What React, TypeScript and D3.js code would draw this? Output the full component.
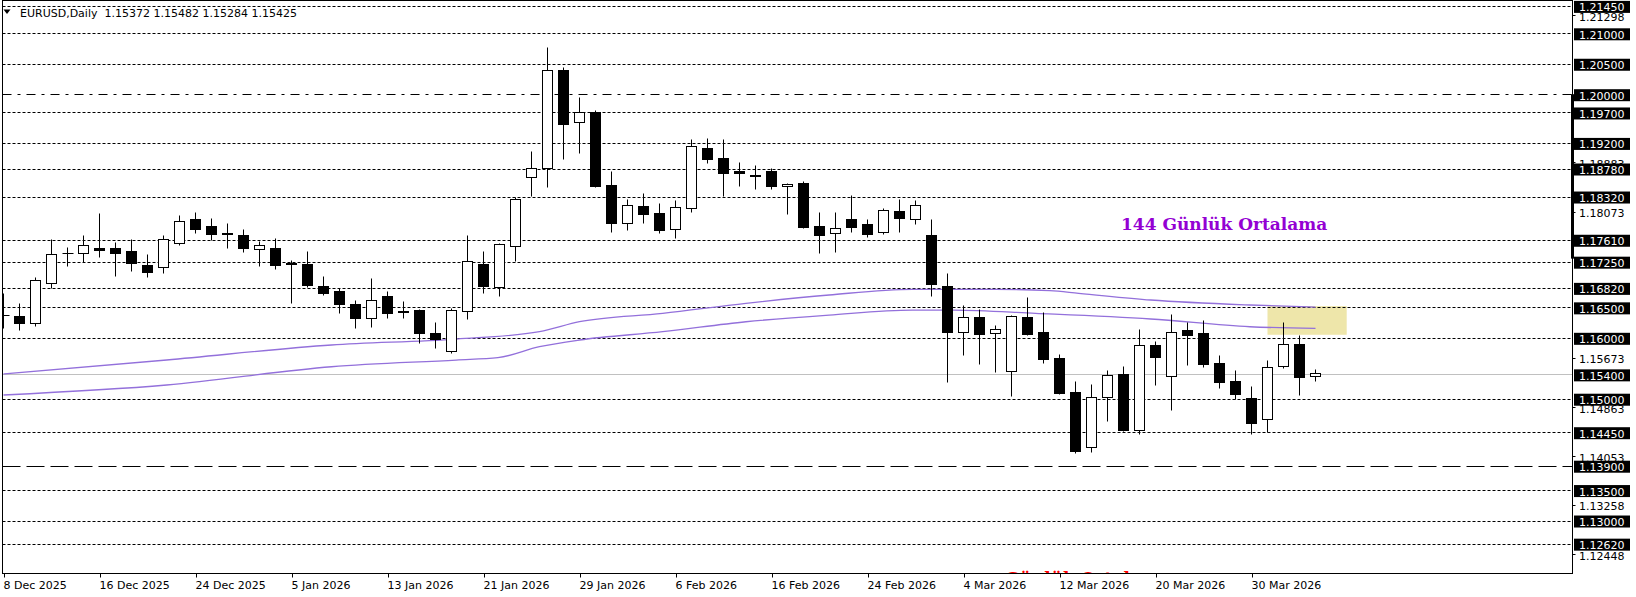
import React from 'react';
import * as d3 from 'd3';

// ---------- DATA ----------
const dates = [
  '2025-12-08','2025-12-09','2025-12-10','2025-12-11','2025-12-12','2025-12-15','2025-12-16','2025-12-17','2025-12-18','2025-12-19',
  '2025-12-22','2025-12-23','2025-12-24','2025-12-26','2025-12-29','2025-12-30','2025-12-31','2026-01-02','2026-01-05','2026-01-06',
  '2026-01-07','2026-01-08','2026-01-09','2026-01-12','2026-01-13','2026-01-14','2026-01-15','2026-01-16','2026-01-19','2026-01-20',
  '2026-01-21','2026-01-22','2026-01-23','2026-01-26','2026-01-27','2026-01-28','2026-01-29','2026-01-30','2026-02-02','2026-02-03',
  '2026-02-04','2026-02-05','2026-02-06','2026-02-09','2026-02-10','2026-02-11','2026-02-12','2026-02-13','2026-02-16','2026-02-17',
  '2026-02-18','2026-02-19','2026-02-20','2026-02-23','2026-02-24','2026-02-25','2026-02-26','2026-02-27','2026-03-02','2026-03-03',
  '2026-03-04','2026-03-05','2026-03-06','2026-03-09','2026-03-10','2026-03-11','2026-03-12','2026-03-13','2026-03-16','2026-03-17',
  '2026-03-18','2026-03-19','2026-03-20','2026-03-23','2026-03-24','2026-03-25','2026-03-26','2026-03-27','2026-03-30','2026-03-31',
  '2026-04-01','2026-04-02','2026-04-03'
];

const open = [
  1.16374,1.16358,1.16248,1.16895,1.17388,1.17388,1.17470,1.17470,1.17425,1.17196,
  1.17158,1.17552,1.17951,1.17836,1.17716,1.17688,1.17453,1.17470,1.17223,1.17212,
  1.16851,1.16769,1.16555,1.16320,1.16686,1.16429,1.16457,1.16074,1.15788,1.16435,
  1.17212,1.16839,1.17503,1.18636,1.18783,1.20392,1.19539,1.19703,1.18509,1.17890,
  1.18164,1.18049,1.17782,1.18126,1.19112,1.18948,1.18739,1.18668,1.18734,1.18488,
  1.18537,1.17831,1.17716,1.17946,1.17864,1.17732,1.18082,1.17946,1.17683,1.16846,
  1.16100,1.16337,1.16074,1.15450,1.16337,1.16090,1.15664,1.15105,1.14202,1.15033,
  1.15406,1.14491,1.15877,1.15373,1.16123,1.16074,1.15581,1.15286,1.15007,1.14662,
  1.15537,1.15893,1.15372
];
const high = [
  1.16731,1.16567,1.16994,1.17618,1.17496,1.17688,1.18044,1.17578,1.17618,1.17376,
  1.17688,1.18017,1.18061,1.17962,1.17880,1.17782,1.17590,1.17634,1.17278,1.17425,
  1.17015,1.16813,1.16621,1.16982,1.16769,1.16604,1.16467,1.16255,1.16494,1.17688,
  1.17425,1.17562,1.18317,1.19067,1.20780,1.20452,1.19949,1.19741,1.18739,1.18279,
  1.18373,1.18213,1.18263,1.19264,1.19276,1.19259,1.18882,1.18838,1.18783,1.18547,
  1.18575,1.18061,1.18061,1.18340,1.17946,1.18126,1.18279,1.18263,1.17951,1.17059,
  1.16539,1.16468,1.16205,1.16375,1.16665,1.16429,1.15729,1.15291,1.15237,1.15471,
  1.15537,1.16145,1.15948,1.16386,1.16265,1.16292,1.15718,1.15471,1.15209,1.15636,
  1.16260,1.16046,1.15482
];
const low = [
  1.16156,1.16128,1.16199,1.16813,1.17179,1.17240,1.17332,1.17020,1.17102,1.17003,
  1.17059,1.17524,1.17716,1.17606,1.17480,1.17414,1.17184,1.17125,1.16577,1.16829,
  1.16703,1.16412,1.16166,1.16182,1.16330,1.16330,1.15910,1.15828,1.15756,1.16314,
  1.16741,1.16691,1.17261,1.18328,1.18481,1.18936,1.19040,1.18481,1.17742,1.17770,
  1.17890,1.17726,1.17644,1.18071,1.18865,1.18328,1.18498,1.18448,1.18448,1.18038,
  1.17808,1.17397,1.17414,1.17732,1.17650,1.17700,1.17732,1.17874,1.16691,1.15279,
  1.15723,1.15570,1.15443,1.15044,1.16047,1.15591,1.15075,1.14104,1.14130,1.14639,
  1.14475,1.14416,1.15225,1.14815,1.15558,1.15526,1.15181,1.14990,1.14416,1.14458,
  1.15509,1.15066,1.15284
];
const close = [
  1.16380,1.16248,1.16949,1.17371,1.17392,1.17524,1.17447,1.17397,1.17223,1.17086,
  1.17618,1.17918,1.17782,1.17700,1.17712,1.17470,1.17524,1.17191,1.17207,1.16872,
  1.16741,1.16560,1.16330,1.16621,1.16412,1.16433,1.16084,1.15985,1.16457,1.17261,
  1.16856,1.17540,1.18279,1.18783,1.20392,1.19516,1.19703,1.18498,1.17890,1.18181,
  1.18038,1.17770,1.18143,1.19149,1.18931,1.18701,1.18701,1.18665,1.18498,1.18526,
  1.17824,1.17693,1.17798,1.17824,1.17709,1.18094,1.17962,1.18176,1.16888,1.16100,
  1.16337,1.16067,1.16150,1.16353,1.16063,1.15657,1.15089,1.14146,1.15033,1.15389,
  1.14486,1.15877,1.15690,1.16090,1.16051,1.15575,1.15279,1.15082,1.14606,1.15516,
  1.15893,1.15361,1.15425
];

const tickLabels = ['8 Dec 2025','16 Dec 2025','24 Dec 2025','5 Jan 2026','13 Jan 2026','21 Jan 2026','29 Jan 2026',
  '6 Feb 2026','16 Feb 2026','24 Feb 2026','4 Mar 2026','12 Mar 2026','20 Mar 2026','30 Mar 2026'];
const tickDates = ['2025-12-08','2025-12-16','2025-12-24','2026-01-05','2026-01-13','2026-01-21','2026-01-29',
  '2026-02-06','2026-02-16','2026-02-24','2026-03-04','2026-03-12','2026-03-20','2026-03-30'];

const levelPrices = [1.2145,1.21,1.205,1.2,1.197,1.192,1.1878,1.1832,1.1761,1.1725,1.1682,1.165,1.16,1.154,1.15,1.1445,1.139,1.135,1.13,1.1262];
const levelStyles = ['dot','dot','dot','dashdot','dot','dot','dot','dot','dot','dot','dot','dot','dot','bid','dot','dot','dash','dot','dot','dot'];

// price-scale labels that are visible (the rest are covered by the level boxes)
const scaleLabels = [1.21298,1.18883,1.18073,1.15673,1.14863,1.14053,1.13258,1.12448];

const maUpperBars = [0,10.2,20.5,28.3,33.5,36,41.2,46.4,51.6,56.8,62,65.4,67.2,71.7,77.9,82];
const maUpperVals = [1.15406,1.15636,1.15882,1.1598,1.1610,1.16264,1.16402,1.16567,1.16703,1.16796,1.16796,1.16774,1.16731,1.16621,1.16539,1.16505];
const maLowerBars = [0,10.2,20.5,28.3,30.9,33.5,36,41.2,46.4,51.6,56.8,59.4,64.5,71.7,77.9,82];
const maLowerVals = [1.15061,1.15225,1.15525,1.15635,1.15673,1.15854,1.15964,1.161,1.16264,1.16374,1.16456,1.16456,1.16402,1.16309,1.16182,1.16156];

const zoneBars = [79, 83.95];
const zonePrices = [1.1652, 1.1605];

const headerText = 'EURUSD,Daily  1.15372 1.15482 1.15284 1.15425';
const maTitle = '144 Günlük Ortalama';
const redTitle = 'Günlük Ortalama';

// ---------- CHART ----------
export default function App() {
  const W = 1636, H = 597;
  const plotL = 2.5, plotR = 1572.5, plotT = 0.5, plotB = 573.5;
  const x = d3.scaleLinear().domain([0, 82]).range([3.5, 3.5 + 16 * 82]);
  const y = d3.scaleLinear().domain([1.21, 1.1262]).range([33.3, 543.66]);
  const py = (p: number) => Math.round(y(p)) + 0.5;
  const font = 'DejaVu Sans, Verdana, sans-serif';

  const dashFor = (s: string) =>
    s === 'dot' ? '3,2' : s === 'dashdot' ? '9,6,3,6' : s === 'dash' ? '18,6' : undefined;

  const lineGen = d3.line<[number, number]>()
    .x(d => x(d[0]))
    .y(d => y(d[1]))
    .curve(d3.curveMonotoneX);
  const upperPts: [number, number][] = maUpperBars.map((b, i) => [b, maUpperVals[i]]);
  const lowerPts: [number, number][] = maLowerBars.map((b, i) => [b, maLowerVals[i]]);

  const candles = dates.map((d, i) => {
    const xc = x(i);
    const o = open[i], c = close[i];
    const yo = py(o), yc = py(c);
    const top = Math.min(yo, yc), bot = Math.max(yo, yc);
    const bull = c >= o;
    return (
      <g key={d}>
        <line x1={xc} x2={xc} y1={py(high[i])} y2={py(low[i])} stroke="#000" strokeWidth={1} />
        {bot - top < 1 ? (
          <line x1={xc - 5} x2={xc + 6} y1={top} y2={top} stroke="#000" strokeWidth={1} />
        ) : (
          <rect x={xc - 5} y={top} width={10} height={bot - top}
            fill={bull ? '#fff' : '#000'} stroke="#000" strokeWidth={1} />
        )}
      </g>
    );
  });

  return (
    <svg width={W} height={H} style={{ position: 'absolute', left: 0, top: 0, background: '#fff' }}
      xmlns="http://www.w3.org/2000/svg">
      <defs>
        <clipPath id="plot">
          <rect x={plotL} y={plotT} width={plotR - plotL} height={plotB - plotT} />
        </clipPath>
      </defs>
      <rect x={0} y={0} width={W} height={H} fill="#fff" />

      <g clipPath="url(#plot)">
        <rect x={x(zoneBars[0])} y={y(zonePrices[0])} width={x(zoneBars[1]) - x(zoneBars[0])}
          height={y(zonePrices[1]) - y(zonePrices[0])} fill="#EEE6AA" />
        {levelPrices.map((p, i) => (
          <line key={p} x1={plotL} x2={plotR} y1={py(p)} y2={py(p)}
            stroke={levelStyles[i] === 'bid' ? '#C0C0C0' : '#000'} strokeWidth={1}
            strokeDasharray={dashFor(levelStyles[i])} />
        ))}
        <path d={lineGen(upperPts) || ''} fill="none" stroke="#9370DB" strokeWidth={1.3} />
        <path d={lineGen(lowerPts) || ''} fill="none" stroke="#9370DB" strokeWidth={1.3} />
        {candles}
        <text x={1121} y={230} fontFamily="DejaVu Serif, serif" fontWeight="bold" fontSize={17} fill="#9400D3">{maTitle}</text>
        <text x={1005} y={584} fontFamily="DejaVu Serif, serif" fontWeight="bold" fontSize={17} fill="#FF0000">{redTitle}</text>
      </g>

      {/* header */}
      <path d="M3.5,9.5 L10.5,9.5 L7,14 Z" fill="#000" />
      <text x={20} y={16.5} fontFamily={font} fontSize={11} fill="#000" style={{ whiteSpace: 'pre' }}>{headerText}</text>

      {/* frame */}
      <rect x={plotL} y={plotT} width={plotR - plotL} height={plotB - plotT} fill="none" stroke="#000" strokeWidth={1} />
      <rect x={1571} y={y(1.2)} width={3} height={y(1.173) - y(1.2)} fill="#000" />

      {/* right axis plain scale labels */}
      {scaleLabels.map(p => (
        <g key={'s' + p}>
          <line x1={plotR} x2={plotR + 3} y1={py(p)} y2={py(p)} stroke="#000" />
          <text x={1579} y={y(p) + 5.5} fontFamily={font} fontSize={11} fill="#000">{p.toFixed(5)}</text>
        </g>
      ))}
      {/* right axis level labels (boxed) */}
      {levelPrices.map(p => (
        <g key={'l' + p}>
          <rect x={1574} y={y(p) - 5} width={56} height={12} fill="#000" />
          <text x={1579} y={y(p) + 5.5} fontFamily={font} fontSize={11} fill="#fff">{p.toFixed(5)}</text>
        </g>
      ))}

      {/* bottom axis */}
      {tickLabels.map((t, i) => {
        const idx = dates.indexOf(tickDates[i]);
        const xt = Math.round(x(idx)) + 0.5;
        return (
          <g key={t}>
            <line x1={xt} x2={xt} y1={plotB} y2={plotB + 4} stroke="#000" />
            <text x={xt - 1} y={588.5} fontFamily={font} fontSize={11} fill="#000">{t}</text>
          </g>
        );
      })}
    </svg>
  );
}
